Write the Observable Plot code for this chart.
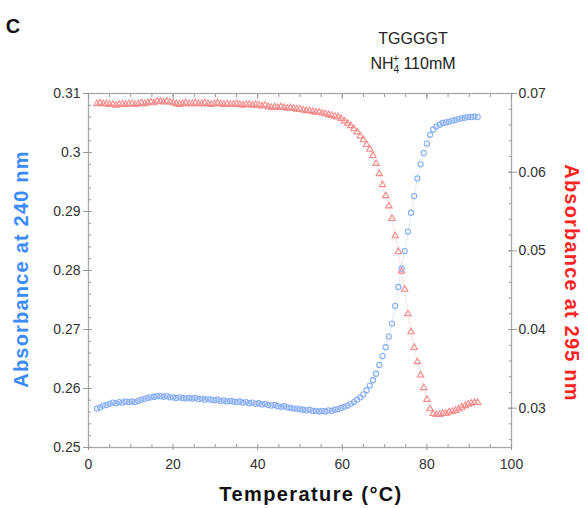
<!DOCTYPE html>
<html>
<head>
<meta charset="utf-8">
<script src="https://cdn.jsdelivr.net/npm/d3@7"></script>
<script src="https://cdn.jsdelivr.net/npm/@observablehq/plot@0.6"></script>
<style>
  html, body { margin: 0; padding: 0; background: #fff; }
  #chart { width: 587px; height: 508px; }
</style>
</head>
<body>
<div id="chart"></div>
<script>
// ---- data ----
const temps = [2,2.75,3.5,4.25,5,5.75,6.5,7.25,8,8.75,9.5,10.25,11,11.75,12.5,13.25,14,14.75,15.5,16.25,17,17.75,18.5,19.25,20,20.75,21.5,22.25,23,23.75,24.5,25.25,26,26.75,27.5,28.25,29,29.75,30.5,31.25,32,32.75,33.5,34.25,35,35.75,36.5,37.25,38,38.75,39.5,40.25,41,41.75,42.5,43.25,44,44.75,45.5,46.25,47,47.75,48.5,49.25,50,50.75,51.5,52.25,53,53.75,54.5,55.25,56,56.75,57.5,58.25,59,59.75,60.5,61.25,62,62.75,63.5,64.25,65,65.75,66.5,67.25,68,68.75,69.5,70.25,71,71.75,72.5,73.25,74,74.75,75.5,76.25,77,77.75,78.5,79.25,80,80.75,81.5,82.25,83,83.75,84.5,85.25,86,86.75,87.5,88.25,89,89.75,90.5,91.25,92];

const abs240 = [0.2566,0.2568,0.2571,0.2572,0.2574,0.2576,0.2575,0.2577,0.2576,0.2578,0.2577,0.2578,0.2577,0.2579,0.2581,0.2582,0.2584,0.2585,0.2586,0.2587,0.2587,0.2586,0.2587,0.2585,0.2585,0.2584,0.2585,0.2584,0.2583,0.2584,0.2583,0.2584,0.2582,0.2583,0.2581,0.2582,0.2581,0.2580,0.2581,0.2579,0.2580,0.2578,0.2579,0.2578,0.2577,0.2578,0.2576,0.2577,0.2575,0.2576,0.2574,0.2575,0.2573,0.2574,0.2572,0.2571,0.2572,0.2570,0.2569,0.2570,0.2568,0.2567,0.2566,0.2566,0.2565,0.2564,0.2563,0.2564,0.2562,0.2562,0.2561,0.2562,0.2561,0.2563,0.2562,0.2564,0.2565,0.2567,0.2569,0.2571,0.2574,0.2577,0.2581,0.2585,0.2590,0.2597,0.2605,0.2614,0.2625,0.2640,0.2655,0.2670,0.2688,0.2710,0.2740,0.2772,0.2803,0.2833,0.2866,0.2898,0.2926,0.2956,0.2980,0.2999,0.3015,0.3030,0.3039,0.3044,0.3047,0.3050,0.3051,0.3052,0.3054,0.3055,0.3057,0.3058,0.3059,0.3060,0.3060,0.3061,0.3060];

const abs295 = [0.0687,0.0688,0.0687,0.0687,0.0686,0.0686,0.0685,0.0686,0.0687,0.0686,0.0687,0.0687,0.0686,0.0687,0.0688,0.0687,0.0688,0.0689,0.0688,0.0690,0.0690,0.0689,0.0690,0.0689,0.0688,0.0687,0.0686,0.0687,0.0688,0.0687,0.0687,0.0688,0.0687,0.0687,0.0688,0.0687,0.0686,0.0687,0.0688,0.0687,0.0686,0.0687,0.0686,0.0686,0.0687,0.0686,0.0685,0.0686,0.0686,0.0685,0.0686,0.0685,0.0684,0.0685,0.0683,0.0682,0.0683,0.0682,0.0683,0.0682,0.0681,0.0682,0.0681,0.0680,0.0680,0.0679,0.0678,0.0678,0.0677,0.0676,0.0676,0.0675,0.0674,0.0673,0.0672,0.0671,0.0670,0.0668,0.0665,0.0662,0.0659,0.0655,0.0651,0.0646,0.0641,0.0635,0.0629,0.0621,0.0611,0.0598,0.0584,0.0570,0.0557,0.0541,0.0519,0.0499,0.0474,0.0451,0.0420,0.0397,0.0377,0.0359,0.0342,0.0326,0.0311,0.0299,0.0293,0.0292,0.0292,0.0293,0.0293,0.0295,0.0296,0.0297,0.0299,0.0301,0.0303,0.0305,0.0306,0.0307,0.0307];

const xTicks = [0, 20, 40, 60, 80, 100];
const leftTicks = [0.25, 0.26, 0.27, 0.28, 0.29, 0.30, 0.31];
const rightTicks = [0.03, 0.04, 0.05, 0.06, 0.07];
const xDomain = [0, 100];
const leftDomain = [0.25, 0.31];
const rightDomain = [0.025, 0.07];

const titleLine1 = "TGGGGT";
const panelLetter = "C";
const xLabel = "Temperature (°C)";
const leftLabel = "Absorbance at 240 nm";
const rightLabel = "Absorbance at 295 nm";

// ---- build ----
const toLeft = d3.scaleLinear(rightDomain, leftDomain);
const d240 = temps.map((t, i) => ({t, v: abs240[i]}));
const d295 = temps.map((t, i) => ({t, v: toLeft(abs295[i])}));

const xMinor = d3.range(0, 100.001, 5);
const leftMinor = d3.range(0.25, 0.3101, 0.002);
const rightMinor = d3.range(0.026, 0.0701, 0.002).map(v => toLeft(v));
const rightMajor = rightTicks.map(v => toLeft(v));

const tickGrey = "#9a9a9a";
const fmtL = d => String(+d.toFixed(2));
const fmtR = d => String(+toLeft.invert(d).toFixed(3));

const blue = "#86adf6";
const red = "#f58a8a";

const chart = Plot.plot({
  width: 587,
  height: 508,
  marginLeft: 88,
  marginRight: 76,
  marginTop: 93,
  marginBottom: 61,
  style: {fontFamily: "'Liberation Sans', Arial, Helvetica, sans-serif", fontSize: "14px", color: "#333", background: "#fff"},
  x: {domain: xDomain},
  y: {domain: leftDomain},
  marks: [
    Plot.frame({stroke: "#a8a8a8", strokeWidth: 1.3}),
    // x ticks
    Plot.axisX({anchor: "bottom", ticks: xMinor, tickSize: -3, fill: "none", stroke: tickGrey, label: null}),
    Plot.axisX({anchor: "top", ticks: xMinor, tickSize: -3, fill: "none", stroke: tickGrey, label: null}),
    Plot.axisX({anchor: "bottom", ticks: xTicks, tickSize: 3, fill: "none", stroke: tickGrey, label: null}),
    Plot.axisX({anchor: "top", ticks: xTicks, tickSize: -5, fill: "none", stroke: tickGrey, label: null}),
    Plot.axisX({anchor: "bottom", ticks: xTicks, tickSize: 0, tickPadding: 12, tickFormat: d => String(d), fill: "#333", label: null}),
    // left ticks
    Plot.axisY({anchor: "left", ticks: leftMinor, tickSize: -3, fill: "none", stroke: tickGrey, label: null}),
    Plot.axisY({anchor: "left", ticks: leftTicks, tickSize: 5, fill: "none", stroke: tickGrey, label: null}),
    Plot.axisY({anchor: "left", ticks: leftTicks, tickSize: -4, fill: "none", stroke: tickGrey, label: null}),
    Plot.axisY({anchor: "left", ticks: leftTicks, tickSize: 0, tickPadding: 8, tickFormat: fmtL, fill: "#333", label: null}),
    // right ticks
    Plot.axisY({anchor: "right", ticks: rightMinor, tickSize: -3, fill: "none", stroke: tickGrey, label: null}),
    Plot.axisY({anchor: "right", ticks: rightMajor, tickSize: 5, fill: "none", stroke: tickGrey, label: null}),
    Plot.axisY({anchor: "right", ticks: rightMajor, tickSize: -4, fill: "none", stroke: tickGrey, label: null}),
    Plot.axisY({anchor: "right", ticks: rightMajor, tickSize: 0, tickPadding: 7, tickFormat: fmtR, fill: "#333", label: null}),
    // data
    Plot.line(d240, {x: "t", y: "v", stroke: blue, strokeWidth: 0.7, strokeDasharray: "1,2", strokeOpacity: 0.6}),
    Plot.line(d295, {x: "t", y: "v", stroke: red, strokeWidth: 0.7, strokeDasharray: "1,2", strokeOpacity: 0.6}),
    Plot.dot(d240, {x: "t", y: "v", r: 2.6, stroke: blue, fill: "none", strokeWidth: 1.1}),
    Plot.dot(d295, {x: "t", y: "v", r: 2.4, symbol: "triangle", stroke: red, fill: "none", strokeWidth: 1.1})
  ]
});

document.getElementById("chart").appendChild(chart);

// ---- texts around the plot ----
const svg = d3.select(chart);
const ff = "'Liberation Sans', Arial, Helvetica, sans-serif";

svg.append("text").attr("x", 13).attr("y", 33)
  .attr("font-family", ff).attr("font-weight", "bold").attr("font-size", 20).attr("fill", "#111")
  .text(panelLetter);

svg.append("text").attr("x", 413).attr("y", 44).attr("text-anchor", "middle")
  .attr("font-family", ff).attr("font-size", 16).attr("fill", "#222")
  .text(titleLine1);

const t2 = svg.append("text").attr("x", 413).attr("y", 69).attr("text-anchor", "middle")
  .attr("font-family", ff).attr("font-size", 16).attr("fill", "#222");
t2.append("tspan").text("NH");
t2.append("tspan").attr("font-size", 10).attr("dy", 4).text("4");
t2.append("tspan").attr("font-size", 10).attr("dx", -6).attr("dy", -11).text("+");
t2.append("tspan").attr("dy", 7).text(" 110mM");

svg.append("text").attr("x", 311).attr("y", 501).attr("text-anchor", "middle")
  .attr("font-family", ff).attr("font-weight", "bold").attr("font-size", 20)
  .attr("letter-spacing", 1.4).attr("fill", "#111")
  .text(xLabel);

svg.append("text").attr("transform", "translate(28,269) rotate(-90)").attr("text-anchor", "middle")
  .attr("font-family", ff).attr("font-weight", "bold").attr("font-size", 20)
  .attr("letter-spacing", 1.2).attr("fill", "#3b8bff")
  .text(leftLabel);

svg.append("text").attr("transform", "translate(565,283) rotate(90)").attr("text-anchor", "middle")
  .attr("font-family", ff).attr("font-weight", "bold").attr("font-size", 20)
  .attr("letter-spacing", 1.2).attr("fill", "#ff2424")
  .text(rightLabel);
</script>
</body>
</html>
